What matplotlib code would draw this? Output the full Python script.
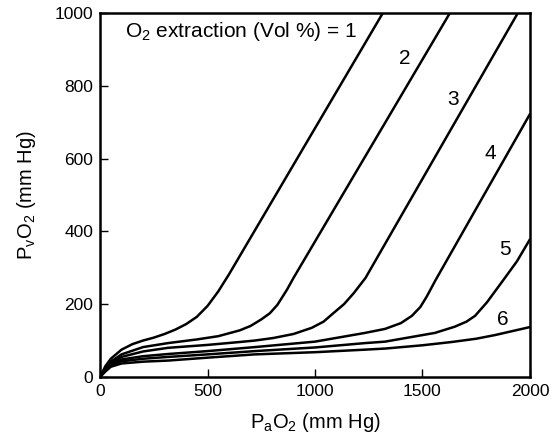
import matplotlib
matplotlib.use("Agg")
import matplotlib.pyplot as plt

plt.rcParams['font.family'] = ['Liberation Sans', 'DejaVu Sans']
plt.rcParams['mathtext.fontset'] = 'custom'
plt.rcParams['mathtext.rm'] = 'Liberation Sans'
plt.rcParams['mathtext.default'] = 'regular'

# PaO2 / PvO2 points, one pair of lists per O2 extraction value
x1 = [0, 25, 50, 100, 150, 200, 250, 300, 350, 400, 450, 500, 550, 600, 1316]
y1 = [0, 30, 50, 75, 90, 100, 108, 118, 130, 145, 165, 195, 235, 282, 1000]

x2 = [0, 25, 50, 100, 200, 316, 450, 550, 650, 700, 750, 790, 825, 870, 900, 1628]
y2 = [0, 25, 42, 62, 82, 93, 103, 112, 128, 140, 158, 175, 198, 240, 272, 1000]

x3 = [0, 25, 50, 100, 200, 316, 500, 650, 720, 806, 900, 985, 1040, 1085, 1135, 1180, 1235, 1944]
y3 = [0, 22, 38, 55, 70, 80, 88, 96, 100, 107, 118, 135, 152, 175, 200, 230, 272, 1000]

x4 = [0, 25, 50, 100, 200, 316, 500, 720, 1000, 1233, 1326, 1400, 1451, 1490, 1521, 1560, 2000]
y4 = [0, 20, 35, 48, 57, 63, 71, 82, 97, 121, 132, 148, 168, 192, 222, 265, 722]

x5 = [0, 25, 50, 100, 200, 316, 500, 720, 1000, 1233, 1326, 1558, 1650, 1705, 1745, 1800, 1876, 1940, 2000]
y5 = [0, 18, 32, 43, 50, 55, 62, 71, 81, 93, 97, 121, 138, 152, 168, 205, 266, 318, 378]

x6 = [0, 25, 50, 100, 200, 316, 500, 720, 1000, 1233, 1326, 1500, 1636, 1750, 1837, 2000]
y6 = [0, 15, 28, 37, 42, 45, 53, 62, 68, 75, 78, 87, 96, 105, 115, 137]

curves = [(x1, y1), (x2, y2), (x3, y3), (x4, y4), (x5, y5), (x6, y6)]

# curve number labels (data coords)
lbl_text = ['2', '3', '4', '5', '6']
lbl_x = [1419, 1642, 1814, 1884, 1874]
lbl_y = [874, 761, 615, 349, 157]

fig = plt.figure(figsize=(5.59, 4.44), dpi=100)
ax = fig.add_axes([0.179, 0.151, 0.769, 0.820])

for x, y in curves:
    ax.plot(x, y, color='black', lw=1.8, solid_joinstyle='round', solid_capstyle='round')

ax.text(118, 948, 'O$_2$ extraction (Vol %) = 1', fontsize=15, va='center', ha='left')
for t, lx, ly in zip(lbl_text, lbl_x, lbl_y):
    ax.text(lx, ly, t, fontsize=15, ha='center', va='center')

ax.set_xlim(0, 2000)
ax.set_ylim(0, 1000)
ax.set_xticks([0, 500, 1000, 1500, 2000])
ax.set_yticks([0, 200, 400, 600, 800, 1000])
ax.tick_params(direction='in', length=6, width=1, labelsize=12.5, pad=5)
for s in ax.spines.values():
    s.set_linewidth(1.8)

ax.set_xlabel('P$_a$O$_2$ (mm Hg)', fontsize=14.5, labelpad=9)
ax.set_ylabel('P$_v$O$_2$ (mm Hg)', fontsize=14.5, labelpad=12)

fig.savefig('out.png', dpi=100)
